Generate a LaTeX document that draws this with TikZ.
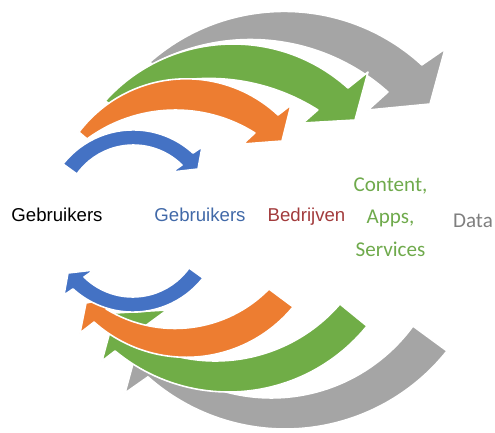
\documentclass[tikz,border=0pt]{standalone}
\usepackage{fontspec}
\setmainfont{Liberation Sans}
\newfontfamily\carlito{Carlito}
\usepackage{xcolor}
\usepackage{tikz}
\usetikzlibrary{calc}
\definecolor{flowblue}{HTML}{4472C4}
\definecolor{floworange}{HTML}{ED7D31}
\definecolor{flowgreen}{HTML}{70AD47}
\definecolor{flowgray}{HTML}{A5A5A5}
\definecolor{textblue}{HTML}{4169A8}
\definecolor{textred}{HTML}{A23B3C}
\definecolor{textgreen}{HTML}{6FAA4C}
\definecolor{textgray}{HTML}{7F7F7F}

\begin{document}
\begin{tikzpicture}[
  x=0.02cm, y=-0.02cm,
  band/.style={draw=white, line width=0.9pt, line join=round},
  label/.style={inner sep=0pt, anchor=base, font=\fontsize{10.6}{12}\selectfont},
  stack/.style={inner sep=0pt, align=center, font=\carlito\fontsize{12}{18.6}\selectfont}
]
\useasboundingbox (0,0) rectangle (495,433);
% upper arcs, back to front
\filldraw[band, fill=flowgray] ($(284.25,215.1)+(-131.5:203.7)$) arc[start angle=-131.5, end angle=-47.5, radius=203.7] -- (445,49) -- (430,104) -- (368,110) -- ($(250.5,245.7)+(-48.2:206.2)$) arc[start angle=-48.2, end angle=-118.2, radius=206.2] -- cycle;
\filldraw[band, fill=flowgreen] ($(233.05,216.1)+(-138:172.1)$) arc[start angle=-138, end angle=-48.1, radius=172.1] -- (368,72) -- (355,120) -- (303,123) -- ($(208.96,282.2)+(-57.7:203.8)$) arc[start angle=-57.7, end angle=-119.05, radius=203.8] -- cycle;
\filldraw[band, fill=floworange] ($(186.2,213.5)+(-142.8:134.7)$) arc[start angle=-142.8, end angle=-47, radius=134.7] -- (291,105) -- (282,141) -- (243,144) -- ($(175.4,259.2)+(-57.8:149.2)$) arc[start angle=-57.8, end angle=-126.3, radius=149.2] -- cycle;
\filldraw[band, fill=flowblue] ($(133.1,218.9)+(-141.9:89)$) arc[start angle=-141.9, end angle=-47.7, radius=89] -- (202,147) -- (198,169) -- (172,172) -- ($(133.3,214.2)+(-45.3:69.2)$) arc[start angle=-45.3, end angle=-144.5, radius=69.2] -- cycle;
% lower arcs, back to front
\filldraw[band, fill=flowgray] ($(285.2,222.3)+(38.5:206.7)$) arc[start angle=38.5, end angle=131.6, radius=206.7] -- (125,393) -- (140,338) -- (202,332) -- ($(271.4,222.8)+(127.4:175.2)$) arc[start angle=127.4, end angle=36.1, radius=175.2] -- cycle;
\filldraw[band, fill=flowgreen] ($(228.7,214.1)+(39:177.9)$) arc[start angle=39, end angle=129.7, radius=177.9] -- (102,361) -- (115,313) -- (167,310) -- ($(215.5,196.6)+(121.3:164.4)$) arc[start angle=121.3, end angle=40.8, radius=164.4] -- cycle;
\filldraw[band, fill=floworange] ($(186.3,218.9)+(39.5:138.4)$) arc[start angle=39.5, end angle=131.8, radius=138.4] -- (80,333) -- (86,303) -- (122,296) -- ($(175,197)+(121.6:131.5)$) arc[start angle=121.6, end angle=44.4, radius=131.5] -- cycle;
\filldraw[band, fill=flowblue] ($(132.9,223.1)+(38.1:89)$) arc[start angle=38.1, end angle=132.3, radius=89] -- (64,295) -- (68,273) -- (94,270) -- ($(132.7,227.8)+(134.7:69.2)$) arc[start angle=134.7, end angle=35.5, radius=69.2] -- cycle;
% labels
\node[label] (users) at (57,221) {Gebruikers};
\node[label, text=textblue] (users2) at (200,221) {Gebruikers};
\node[label, text=textred] (companies) at (306.5,221) {Bedrijven};
\node[stack, text=textgreen] (content) at (390.5,217) {Content,\\Apps,\\Services};
\node[stack, text=textgray, anchor=base] (data) at (473,227) {Data};
\end{tikzpicture}
\end{document}
